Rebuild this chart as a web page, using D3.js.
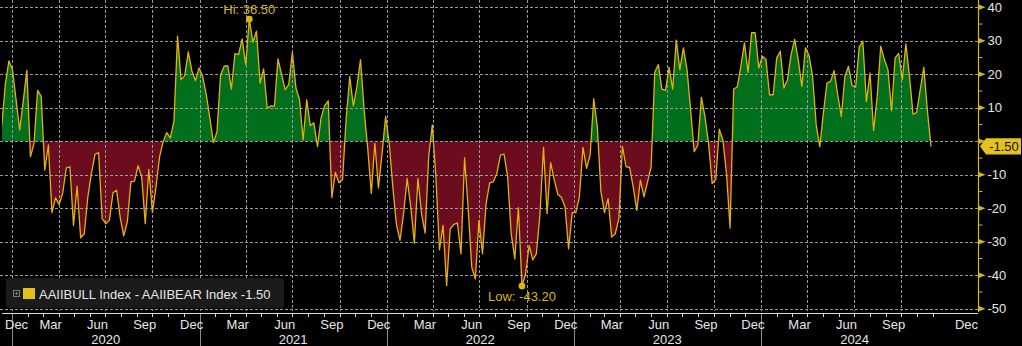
<!DOCTYPE html>
<html>
<head>
<meta charset="utf-8">
<script src="https://cdn.jsdelivr.net/npm/d3@7"></script>
<style>
  html, body { margin: 0; padding: 0; background: #000; }
  svg { display: block; }
  text { font-family: "Liberation Sans", Arial, sans-serif; }
</style>
</head>
<body>
<svg id="chart" width="1022" height="346"></svg>
<script>
// Weekly AAII sentiment spread (bullish % minus bearish %), one value per weekly survey
const seriesName = "AAIIBULL Index - AAIIBEAR Index";
const firstSurvey = "2019-12-12";
const spread = [
  4.4, 17, 24, 21.4, 12.4, 3.4, 12, 21.2, -4.6, -0.6,
  15.2, 13.4, -8.6, -1.1, -21.3, -16.9, -18.9, -15.4, -7.9, -7.6,
  -25.1, -13.4, -28.8, -27.6, -16.6, -9.6, -3.9, -3.4, -23.1, -24.6,
  -23.6, -15.4, -14.6, -22.6, -28.2, -24.1, -12.1, -11.9, -7.3, -10.6,
  -24.6, -8.4, -21.3, -13.6, -4.6, -0.1, 2.6, 1.0, 6, 31.4,
  18.4, 19.6, 26.7, 21, 18.1, 21.9, 19.4, 14, 7, -0.4,
  2.9, 19.9, 22.4, 22.6, 15.6, 26.2, 25.9, 30.6, 22.9, 36.5,
  29.6, 32.9, 17.4, 21.6, 9.9, 10.6, 10.4, 24.6, 20, 15.4,
  16.9, 26.6, 15.9, 12.4, 0.4, 12.4, 4.7, 5.5, -1.6, 7,
  10.6, 12.1, -16.8, -9.3, -12.4, -11.4, 6.9, 19.3, 10.6, 16.4,
  24.4, 9.4, -2, -15.6, -0.6, -13.9, -3.6, 7.4, -0.6, -13.6,
  -24.8, -29.6, -21.6, -11.1, -19.6, -30.4, -11.1, -21.6, -27.4, -4.6,
  4.9, -10.6, -32.4, -25.1, -43, -26.1, -24.8, -24.4, -33.6, -4.9,
  -20, -37.6, -41.1, -23.6, -33.6, -18.6, -12.4, -12.1, -9.6, -4.1,
  -3.8, -10.6, -27.6, -35.1, -19.8, -43.2, -39.6, -31.1, -35.4, -33.6,
  -22, -1.8, -21.6, -6.4, -11.6, -15.8, -16.8, -19.6, -32.1, -21.3,
  -21.3, -16.6, -1.8, -8.1, -4.1, 12.7, 4.4, -15, -21.3, -17.1,
  -28.6, -27.6, -23.1, -1.5, -7.6, -7.8, -13.6, -20.6, -11.6, -16.6,
  -12.1, -7.6, 20.6, 22.9, 15.6, 15.2, 22.1, 15.6, 30.2, 21.4,
  27.9, 21.4, 9.4, -3.1, -1.1, 13.1, 7.4, -0.6, -12.6, -11.4,
  3.6, 0.4, -9.6, -25.9, 15.6, 16.2, 22.4, 29.4, 20.6, 32.4,
  32.4, 21.9, 25.4, 24.4, 13.9, 13.9, 24.9, 26.9, 15.9, 18.4,
  25.9, 30.4, 24.4, 16.4, 27.9, 25.6, 19.4, 4.9, -1.6, 8.4,
  17.4, 17.9, 21.1, 13.9, 7.4, 19.4, 22.4, 16.6, 16.2, 28.1,
  29.9, 11.9, 20.4, 3.2, 13.4, 28.4, 24.4, 21.4, 9.1, 24.9,
  26.2, 18.4, 29.1, 19.4, 8.1, 8.6, 15.4, 22.1, 9, -1.5
];
const yTickValues = [-50, -40, -30, -20, -10, 0, 10, 20, 30, 40];
const yTickLabels = ["-50", "-40", "-30", "-20", "-10", "0", "10", "20", "30", "40"];
const yMinorValues = [-45, -35, -25, -15, -5, 5, 15, 25, 35];
const monthLabels = ["Jan", "Feb", "Mar", "Apr", "May", "Jun", "Jul", "Aug", "Sep", "Oct", "Nov", "Dec"];
const labelledMonths = [2, 5, 8, 11];
const yearLabels = ["2020", "2021", "2022", "2023", "2024"];

// Colours
const BG = "#000000";
const UP_FILL = "#026f1d";
const DOWN_FILL = "#6c0c1f";
const LINE = "#e3b20c";
const GOLD = "#d6b520";
const GRID = "#9a9a9a";
const AXIS_TEXT = "#e6e6e6";

const fmt = v => (v < 0 ? "-" : "") + Math.abs(v).toFixed(2);
const DAY = 864e5;
const t0 = new Date(firstSurvey + "T00:00:00Z").getTime();
const points = spread.map((v, i) => ({ date: new Date(t0 + i * 7 * DAY), value: v }));

const W = 1022, H = 346;
const plot = { left: 2, right: 978, top: 0, bottom: 313 };

const x = d3.scaleUtc()
  .domain([new Date(Date.UTC(2021, 3, 8)), new Date(Date.UTC(2024, 10, 28))])
  .range([249.3, 931]);
const y = d3.scaleLinear().domain([-50, 40]).range([308.8, 7.3]);
const y0 = y(0);

const svg = d3.select("#chart");
svg.append("rect").attr("width", W).attr("height", H).attr("fill", BG);

const defs = svg.append("defs");
defs.append("clipPath").attr("id", "clip-up").append("rect")
  .attr("x", plot.left).attr("y", plot.top).attr("width", plot.right - plot.left).attr("height", y0 - plot.top);
defs.append("clipPath").attr("id", "clip-down").append("rect")
  .attr("x", plot.left).attr("y", y0).attr("width", plot.right - plot.left).attr("height", plot.bottom - y0);
defs.append("clipPath").attr("id", "clip-plot").append("rect")
  .attr("x", plot.left).attr("y", plot.top).attr("width", plot.right - plot.left).attr("height", plot.bottom - plot.top);

// Filled areas between the spread and zero: green above, maroon below
const area = d3.area().x(d => x(d.date)).y0(y0).y1(d => y(d.value));
svg.append("path").datum(points).attr("d", area).attr("fill", UP_FILL).attr("clip-path", "url(#clip-up)");
svg.append("path").datum(points).attr("d", area).attr("fill", DOWN_FILL).attr("clip-path", "url(#clip-down)");

// Dashed grid
const grid = svg.append("g").attr("stroke", GRID).attr("stroke-width", 1).attr("stroke-dasharray", "3,2").attr("fill", "none");
grid.selectAll("line.h").data(yTickValues).join("line")
  .attr("x1", 0).attr("x2", plot.right)
  .attr("y1", d => Math.round(y(d)) + 0.5).attr("y2", d => Math.round(y(d)) + 0.5);
const quarterStarts = d3.utcMonth.every(3).range(new Date(Date.UTC(2020, 0, 1)), new Date(Date.UTC(2024, 11, 1)));
grid.selectAll("line.v").data(quarterStarts).join("line")
  .attr("x1", d => Math.round(x(d)) + 0.5).attr("x2", d => Math.round(x(d)) + 0.5)
  .attr("y1", 0).attr("y2", plot.bottom - 2);

// Spread line
const line = d3.line().x(d => x(d.date)).y(d => y(d.value));
svg.append("path").datum(points).attr("d", line)
  .attr("fill", "none").attr("stroke", LINE).attr("stroke-width", 1.3)
  .attr("stroke-linejoin", "round").attr("clip-path", "url(#clip-plot)");

// High / low markers
const hi = points.reduce((a, b) => (b.value > a.value ? b : a));
const lo = points.reduce((a, b) => (b.value < a.value ? b : a));
svg.append("circle").attr("cx", x(hi.date)).attr("cy", y(hi.value)).attr("r", 3.4).attr("fill", GOLD);
svg.append("text").attr("x", x(hi.date)).attr("y", 13.5).attr("text-anchor", "middle")
  .attr("font-size", 13).attr("fill", GOLD).text("Hi: " + fmt(hi.value));
svg.append("circle").attr("cx", x(lo.date)).attr("cy", y(lo.value)).attr("r", 3.4).attr("fill", GOLD);
svg.append("text").attr("x", x(lo.date)).attr("y", 301).attr("text-anchor", "middle")
  .attr("font-size", 13).attr("fill", GOLD).text("Low: " + fmt(lo.value));

// Legend
const last = points[points.length - 1];
const legend = svg.append("g");
legend.append("rect").attr("x", 6).attr("y", 278).attr("width", 278).attr("height", 30).attr("rx", 3).attr("fill", "#1b1b1b");
legend.append("rect").attr("x", 13.5).attr("y", 290.5).attr("width", 6).attr("height", 6).attr("fill", "none").attr("stroke", "#7a7a7a");
legend.append("path").attr("d", "M15,293.5H18M16.5,292V295").attr("stroke", "#7a7a7a");
legend.append("rect").attr("x", 23).attr("y", 288).attr("width", 12).attr("height", 11).attr("fill", "#e2c21a");
legend.append("text").attr("x", 39).attr("y", 298.5).attr("font-size", 13).attr("fill", AXIS_TEXT)
  .text(seriesName + " " + fmt(last.value));

// Right value axis
const last_y = y(last.value);
const yAxis = svg.append("g");
yAxis.append("line").attr("x1", 978.5).attr("x2", 978.5).attr("y1", 0).attr("y2", 312).attr("stroke", GOLD).attr("stroke-width", 1.2);
yAxis.selectAll("path.tick").data(yTickValues).join("path")
  .attr("d", d => { const yy = y(d); return `M978,${yy - 3}L985.5,${yy}L978,${yy + 3}Z`; })
  .attr("fill", GOLD);
yAxis.selectAll("line.minor").data(yMinorValues).join("line")
  .attr("x1", 978).attr("x2", 982.5).attr("y1", d => y(d)).attr("y2", d => y(d))
  .attr("stroke", GOLD).attr("stroke-width", 1);
// Tick labels hidden behind the last-value tag are left out
const shownTicks = yTickValues.map((v, i) => ({ v, label: yTickLabels[i] }))
  .filter(t => Math.abs(y(t.v) - last_y) > 12);
yAxis.selectAll("text").data(shownTicks).join("text")
  .attr("x", 987.5).attr("y", d => y(d.v)).attr("dy", "0.36em")
  .attr("font-size", 13).attr("fill", AXIS_TEXT)
  .text(d => d.label);

// Last value tag
svg.append("path")
  .attr("d", `M980,${last_y}L986,${last_y - 8.2}H1021V${last_y + 8.2}H986Z`)
  .attr("fill", "#e4c21c");
svg.append("text").attr("x", 1004).attr("y", last_y).attr("dy", "0.36em").attr("text-anchor", "middle")
  .attr("font-size", 13).attr("fill", "#111").text(fmt(last.value));

// Bottom time axis
const xAxis = svg.append("g");
xAxis.append("line").attr("x1", plot.left).attr("x2", plot.right).attr("y1", 313.5).attr("y2", 313.5)
  .attr("stroke", "#dcdcdc").attr("stroke-width", 1);
const monthStarts = d3.utcMonth.range(new Date(Date.UTC(2019, 11, 1)), new Date(Date.UTC(2024, 11, 2)))
  .filter(d => x(d) >= plot.left && x(d) <= plot.right);
xAxis.selectAll("line.mt").data(monthStarts).join("line")
  .attr("x1", d => Math.round(x(d)) + 0.5).attr("x2", d => Math.round(x(d)) + 0.5)
  .attr("y1", 313).attr("y2", 317).attr("stroke", "#dcdcdc");

const yearStarts = yearLabels.map(s => new Date(Date.UTC(+s, 0, 1)));
xAxis.selectAll("line.yr").data(yearStarts).join("line")
  .attr("x1", d => Math.round(x(d)) + 0.5).attr("x2", d => Math.round(x(d)) + 0.5)
  .attr("y1", 314).attr("y2", H).attr("stroke", "#8a8a8a");

// Quarter-end month names, centred in their month; the end labels are pinned to the axis edges
const labelMonths = d3.utcMonth.range(new Date(Date.UTC(2019, 11, 1)), new Date(Date.UTC(2024, 11, 2)))
  .filter(d => labelledMonths.includes(d.getUTCMonth()));
labelMonths.forEach((d, i) => {
  const cx = (x(d) + x(d3.utcMonth.offset(d, 1))) / 2;
  let anchor = "middle", lx = cx;
  if (i === 0) { anchor = "start"; lx = 5; }
  else if (i === labelMonths.length - 1) { anchor = "end"; lx = plot.right; }
  xAxis.append("text").attr("x", lx).attr("y", 328.5).attr("text-anchor", anchor)
    .attr("font-size", 13).attr("fill", AXIS_TEXT).text(monthLabels[d.getUTCMonth()]);
});
yearStarts.forEach((d, i) => {
  const a = Math.max(x(d), plot.left);
  const b = Math.min(x(d3.utcYear.offset(d, 1)), plot.right);
  xAxis.append("text").attr("x", (a + b) / 2).attr("y", 344).attr("text-anchor", "middle")
    .attr("font-size", 13).attr("fill", AXIS_TEXT).text(yearLabels[i]);
});
</script>
</body>
</html>
